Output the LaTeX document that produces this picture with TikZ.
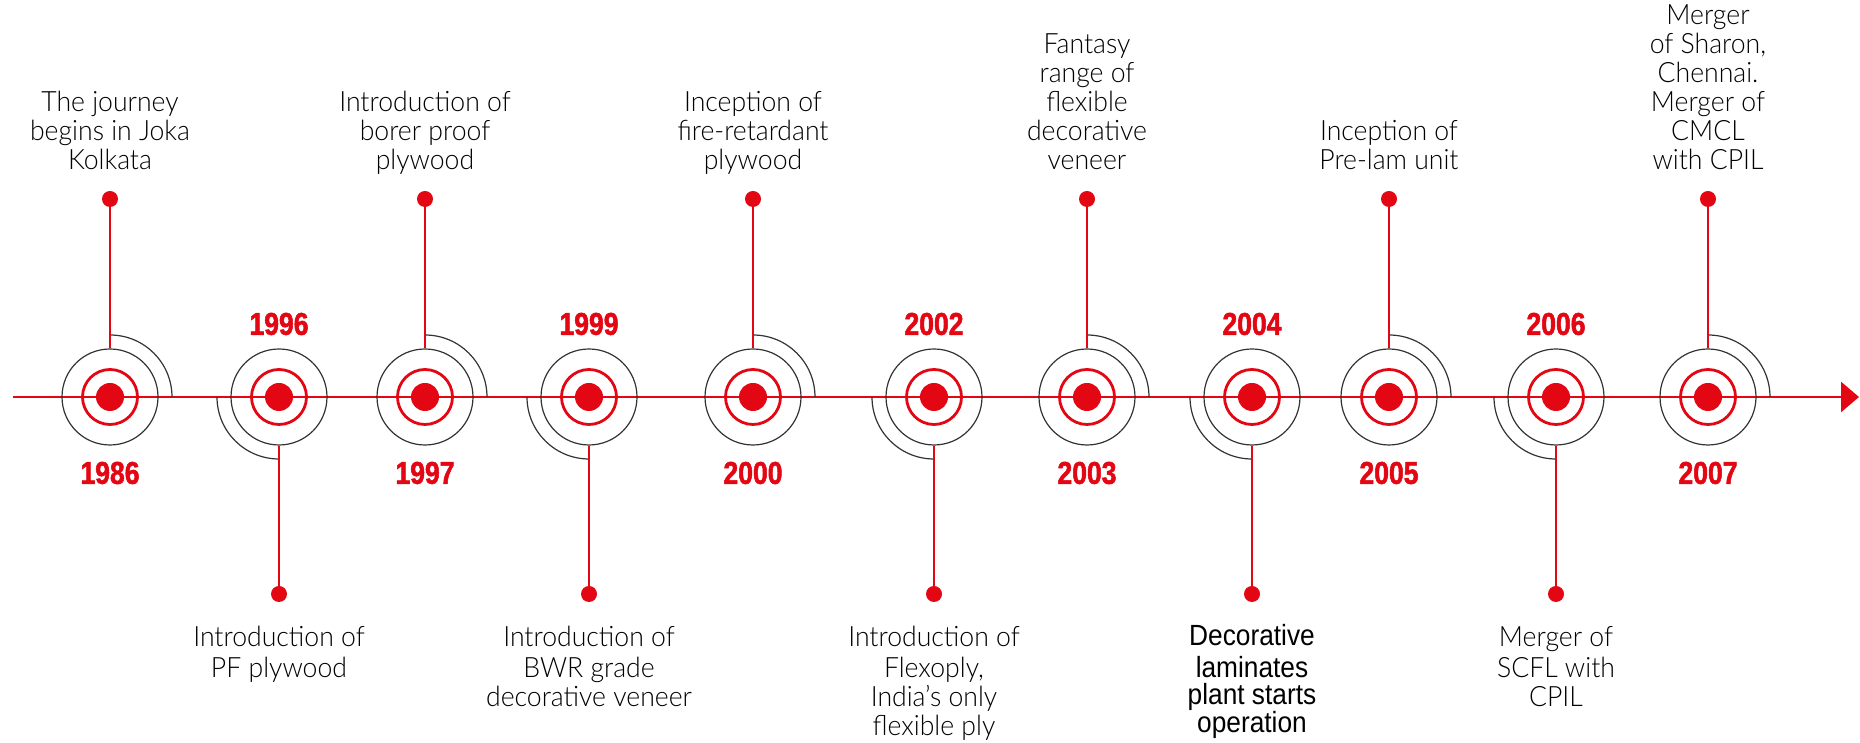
\documentclass[tikz,border=0pt]{standalone}
\usepackage{fontspec}
\setmainfont{Liberation Sans}[FakeStretch=0.9]
\newfontfamily\evfont{Lato Light}[FakeStretch=0.95]
\newfontfamily\yrfont{Liberation Sans}[UprightFont={* Bold}, FakeStretch=0.84, FakeBold=1.6]
\usepackage{tikz}
\usetikzlibrary{arrows.meta}
\definecolor{cpred}{HTML}{E30613}
\definecolor{halogray}{HTML}{333333}

\begin{document}
\begin{tikzpicture}[
    x=0.5pt, y=0.5pt,
    axis/.style={draw=cpred, line width=1.4pt, -{Triangle[length=9pt, width=15pt]}},
    dot/.style={circle, fill=cpred, inner sep=0pt, minimum size=14pt},
    ring/.style={circle, draw=cpred, line width=1.4pt, inner sep=0pt, minimum size=27.5pt},
    halo/.style={circle, draw=halogray, line width=0.6pt, inner sep=0pt, minimum size=48pt},
    pin/.style={circle, fill=cpred, inner sep=0pt, minimum size=8pt},
    stem/.style={draw=cpred, line width=1pt},
    arcline/.style={draw=halogray, line width=0.6pt},
    evtext/.style={font=\evfont\fontsize{14}{14.5}\selectfont, align=center, inner sep=0pt},
    evbold/.style={font=\fontsize{14.6}{13.9}\selectfont, align=center, inner sep=0pt},
    year/.style={font=\yrfont\fontsize{15.8}{16}\selectfont, text=cpred, inner sep=0pt},
  ]
  \useasboundingbox (0,0) rectangle (1860,743);

  % Axis
  \coordinate (start) at (13,346);
  \coordinate (end) at (1859,346);
  \draw[axis] (start) -- (end);

  % 1986
  \node[dot] (d86) at (110,346) {};
  \node[ring] (r86) at (110,346) {};
  \node[halo] (h86) at (110,346) {};
  \draw[arcline] (h86.center) ++(0,62) arc[start angle=90, end angle=0, radius=31pt];
  \node[pin] (p86) at (110,544) {};
  \draw[stem] (p86) -- (h86);
  \node[year] (y86) at (110,270) {1986};
  \node[evtext, anchor=south] (t86) at (110,564) {The journey\\begins in Joka\\Kolkata\strut};

  % 1996
  \node[dot] (d96) at (279,346) {};
  \node[ring] (r96) at (279,346) {};
  \node[halo] (h96) at (279,346) {};
  \draw[arcline] (h96.center) ++(-62,0) arc[start angle=180, end angle=270, radius=31pt];
  \node[pin] (p96) at (279,149) {};
  \draw[stem] (p96) -- (h96);
  \node[year] (y96) at (279,419) {1996};
  \node[evtext, anchor=north] (t96) at (279,117) {\strut Introduction of\\PF plywood};

  % 1997
  \node[dot] (d97) at (425,346) {};
  \node[ring] (r97) at (425,346) {};
  \node[halo] (h97) at (425,346) {};
  \draw[arcline] (h97.center) ++(0,62) arc[start angle=90, end angle=0, radius=31pt];
  \node[pin] (p97) at (425,544) {};
  \draw[stem] (p97) -- (h97);
  \node[year] (y97) at (425,270) {1997};
  \node[evtext, anchor=south] (t97) at (425,564) {Introduction of\\borer proof\\plywood\strut};

  % 1999
  \node[dot] (d99) at (589,346) {};
  \node[ring] (r99) at (589,346) {};
  \node[halo] (h99) at (589,346) {};
  \draw[arcline] (h99.center) ++(-62,0) arc[start angle=180, end angle=270, radius=31pt];
  \node[pin] (p99) at (589,149) {};
  \draw[stem] (p99) -- (h99);
  \node[year] (y99) at (589,419) {1999};
  \node[evtext, anchor=north] (t99) at (589,117) {\strut Introduction of\\BWR grade\\decorative veneer};

  % 2000
  \node[dot] (d00) at (753,346) {};
  \node[ring] (r00) at (753,346) {};
  \node[halo] (h00) at (753,346) {};
  \draw[arcline] (h00.center) ++(0,62) arc[start angle=90, end angle=0, radius=31pt];
  \node[pin] (p00) at (753,544) {};
  \draw[stem] (p00) -- (h00);
  \node[year] (y00) at (753,270) {2000};
  \node[evtext, anchor=south] (t00) at (753,564) {Inception of\\fire-retardant\\plywood\strut};

  % 2002
  \node[dot] (d02) at (934,346) {};
  \node[ring] (r02) at (934,346) {};
  \node[halo] (h02) at (934,346) {};
  \draw[arcline] (h02.center) ++(-62,0) arc[start angle=180, end angle=270, radius=31pt];
  \node[pin] (p02) at (934,149) {};
  \draw[stem] (p02) -- (h02);
  \node[year] (y02) at (934,419) {2002};
  \node[evtext, anchor=north] (t02) at (934,117) {\strut Introduction of\\Flexoply,\\India’s only\\flexible ply};

  % 2003
  \node[dot] (d03) at (1087,346) {};
  \node[ring] (r03) at (1087,346) {};
  \node[halo] (h03) at (1087,346) {};
  \draw[arcline] (h03.center) ++(0,62) arc[start angle=90, end angle=0, radius=31pt];
  \node[pin] (p03) at (1087,544) {};
  \draw[stem] (p03) -- (h03);
  \node[year] (y03) at (1087,270) {2003};
  \node[evtext, anchor=south] (t03) at (1087,564) {Fantasy\\range of\\flexible\\decorative\\veneer\strut};

  % 2004
  \node[dot] (d04) at (1252,346) {};
  \node[ring] (r04) at (1252,346) {};
  \node[halo] (h04) at (1252,346) {};
  \draw[arcline] (h04.center) ++(-62,0) arc[start angle=180, end angle=270, radius=31pt];
  \node[pin] (p04) at (1252,149) {};
  \draw[stem] (p04) -- (h04);
  \node[year] (y04) at (1252,419) {2004};
  \node[evbold, anchor=north] (t04) at (1252,119) {\strut Decorative\\laminates\\plant starts\\operation};

  % 2005
  \node[dot] (d05) at (1389,346) {};
  \node[ring] (r05) at (1389,346) {};
  \node[halo] (h05) at (1389,346) {};
  \draw[arcline] (h05.center) ++(0,62) arc[start angle=90, end angle=0, radius=31pt];
  \node[pin] (p05) at (1389,544) {};
  \draw[stem] (p05) -- (h05);
  \node[year] (y05) at (1389,270) {2005};
  \node[evtext, anchor=south] (t05) at (1389,564) {Inception of\\Pre-lam unit\strut};

  % 2006
  \node[dot] (d06) at (1556,346) {};
  \node[ring] (r06) at (1556,346) {};
  \node[halo] (h06) at (1556,346) {};
  \draw[arcline] (h06.center) ++(-62,0) arc[start angle=180, end angle=270, radius=31pt];
  \node[pin] (p06) at (1556,149) {};
  \draw[stem] (p06) -- (h06);
  \node[year] (y06) at (1556,419) {2006};
  \node[evtext, anchor=north] (t06) at (1556,117) {\strut Merger of\\SCFL with\\CPIL};

  % 2007
  \node[dot] (d07) at (1708,346) {};
  \node[ring] (r07) at (1708,346) {};
  \node[halo] (h07) at (1708,346) {};
  \draw[arcline] (h07.center) ++(0,62) arc[start angle=90, end angle=0, radius=31pt];
  \node[pin] (p07) at (1708,544) {};
  \draw[stem] (p07) -- (h07);
  \node[year] (y07) at (1708,270) {2007};
  \node[evtext, anchor=south] (t07) at (1708,564) {Merger\\of Sharon,\\Chennai.\\Merger of\\CMCL\\with CPIL\strut};
\end{tikzpicture}
\end{document}
